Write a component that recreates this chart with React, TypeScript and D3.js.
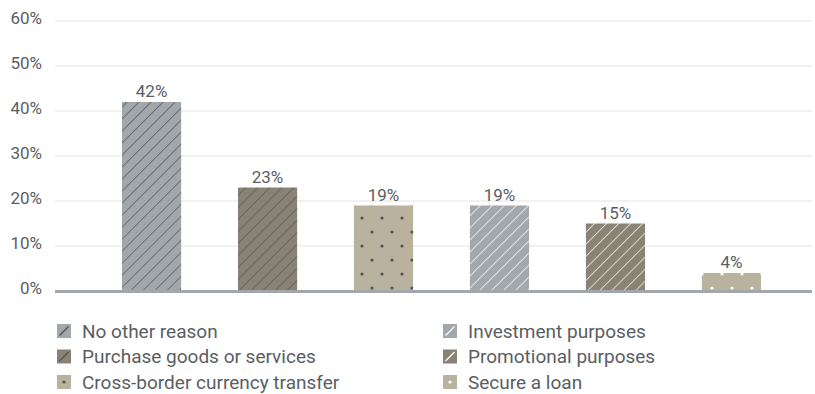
import * as d3 from "d3";
import { useEffect, useRef } from "react";

const categories = [
  "No other reason",
  "Purchase goods or services",
  "Cross-border currency transfer",
  "Investment purposes",
  "Promotional purposes",
  "Secure a loan",
];
const values = [42, 23, 19, 19, 15, 4];
const yTicks = [0, 10, 20, 30, 40, 50, 60];
const fills = ["#a1a7ab", "#8a8275", "#b9b29e", "#a1a7ab", "#8a8275", "#b9b29e"];
const patternKinds = ["hatchDark", "hatchDark", "dotDark", "hatchLight", "hatchLight", "dotLight"];

export default function App() {
  const svgRef = useRef<SVGSVGElement | null>(null);

  useEffect(() => {
    if (!svgRef.current) return;
    const W = 815;
    const H = 394;
    const svg = d3.select(svgRef.current);
    svg.selectAll("*").remove();
    svg.attr("width", W).attr("height", H);

    const font = "Roboto, sans-serif";
    const textColor = "#5a5e63";

    const defs = svg.append("defs");
    categories.forEach((c, i) => {
      const kind = patternKinds[i];
      const ink = kind.endsWith("Dark") ? "#4e5257" : "#ffffff";
      if (kind.startsWith("hatch")) {
        const p = defs
          .append("pattern")
          .attr("id", `pat${i}`)
          .attr("patternUnits", "userSpaceOnUse")
          .attr("width", 8.5)
          .attr("height", 8.5)
          .attr("patternTransform", "rotate(45)");
        p.append("rect").attr("width", 8.5).attr("height", 8.5).attr("fill", fills[i]);
        p.append("line")
          .attr("x1", 0).attr("y1", 0).attr("x2", 0).attr("y2", 8.5)
          .attr("stroke", ink).attr("stroke-width", 1.3);
      } else {
        const p = defs
          .append("pattern")
          .attr("id", `pat${i}`)
          .attr("patternUnits", "userSpaceOnUse")
          .attr("width", 20)
          .attr("height", 28);
        p.append("rect").attr("width", 20).attr("height", 28).attr("fill", fills[i]);
        p.append("circle").attr("cx", 2).attr("cy", 22).attr("r", 1.6).attr("fill", ink);
        p.append("circle").attr("cx", 12).attr("cy", 8).attr("r", 1.6).attr("fill", ink);
      }
    });

    const x = d3
      .scaleBand<string>()
      .domain(categories)
      .range([122, 761])
      .paddingInner(0.49)
      .paddingOuter(0);
    const y = d3.scaleLinear().domain([0, 60]).range([291, 21]);

    // grid
    svg.append("g")
      .selectAll("line")
      .data(yTicks.filter((t) => t > 0))
      .join("line")
      .attr("x1", 55)
      .attr("x2", 812)
      .attr("y1", (d) => y(d))
      .attr("y2", (d) => y(d))
      .attr("stroke", "#ececec")
      .attr("stroke-width", 1.5);

    svg.append("g")
      .selectAll("text")
      .data(yTicks)
      .join("text")
      .attr("x", 42)
      .attr("y", (d) => y(d) + 2.5)
      .attr("text-anchor", "end")
      .attr("font-family", font)
      .attr("font-size", 17)
      .attr("fill", textColor)
      .text((d) => `${d}%`);

    // bars
    svg.append("g")
      .selectAll("rect")
      .data(values)
      .join("rect")
      .attr("x", (d, i) => x(categories[i])!)
      .attr("width", x.bandwidth())
      .attr("y", (d) => y(d))
      .attr("height", (d) => y(0) - y(d))
      .attr("fill", (d, i) => `url(#pat${i})`);

    svg.append("g")
      .selectAll("text")
      .data(values)
      .join("text")
      .attr("x", (d, i) => x(categories[i])! + x.bandwidth() / 2)
      .attr("y", (d) => y(d) - 5)
      .attr("text-anchor", "middle")
      .attr("font-family", font)
      .attr("font-size", 17)
      .attr("fill", textColor)
      .text((d) => `${d}%`);

    // baseline
    svg.append("line")
      .attr("x1", 55)
      .attr("x2", 812)
      .attr("y1", y(0) + 0.5)
      .attr("y2", y(0) + 0.5)
      .attr("stroke", "#a1a7ab")
      .attr("stroke-width", 3);

    // legend
    const lg = svg.append("g");
    categories.forEach((c, i) => {
      const col = i < 3 ? 0 : 1;
      const row = i % 3;
      const lx = col === 0 ? 57 : 443;
      const ly = 331 + row * 25.5;
      const item = lg.append("g").attr("transform", `translate(${lx},${ly})`);
      const kind = patternKinds[i];
      const ink = kind.endsWith("Dark") ? "#4e5257" : "#ffffff";
      item.append("rect")
        .attr("x", 0).attr("y", -7).attr("width", 14).attr("height", 14)
        .attr("fill", fills[i]);
      if (kind.startsWith("hatch")) {
        item.append("line")
          .attr("x1", 2.5).attr("y1", 4.5).attr("x2", 11.5).attr("y2", -4.5)
          .attr("stroke", ink).attr("stroke-width", 1.3);
      } else {
        item.append("circle").attr("cx", 7).attr("cy", 0).attr("r", 1.6).attr("fill", ink);
      }
      item.append("text")
        .attr("x", 25)
        .attr("y", 0)
        .attr("dy", "0.35em")
        .attr("font-family", font)
        .attr("font-size", 19)
        .attr("fill", textColor)
        .text(c);
    });
  }, []);

  return <svg ref={svgRef} style={{ position: "absolute", left: 0, top: 0 }} />;
}
